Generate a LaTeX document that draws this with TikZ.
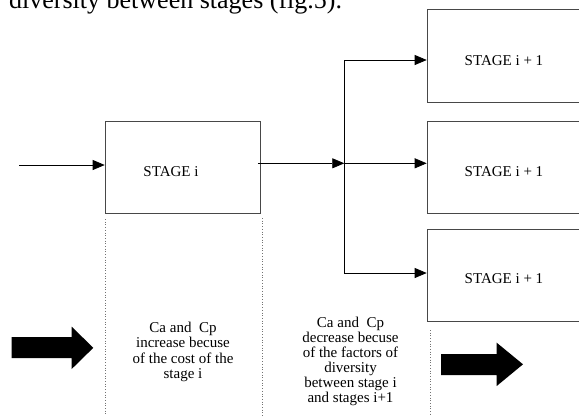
\documentclass[tikz,border=0pt]{standalone}
\usepackage{fontspec}
\setmainfont{Liberation Serif}
\usetikzlibrary{arrows.meta}
\begin{document}
\begin{tikzpicture}[x=1pt,y=-1pt]
\tikzset{
 stagebox/.style={draw=black!72, line width=0.9pt, inner sep=0pt, anchor=north west},
 lbl/.style={font=\fontsize{15}{15.3}\selectfont, text=black, inner sep=0pt},
 conn/.style={line width=0.7pt, draw=black},
 tipped/.style={-{Triangle[length=12pt,width=10pt]}},
 guide/.style={draw=black!55, line width=0.7pt, dotted},
 bigarrow/.style={fill=black}
}
\useasboundingbox (0,0) rectangle (579,416);
\clip (0,0) rectangle (579,416);

% cropped caption text
\node[anchor=base west, inner sep=0pt, font=\fontsize{26}{30}\selectfont] (caption) at (9,8) {diversity between stages (fig.5).};

% boxes
\node[stagebox, minimum width=155.3pt, minimum height=91.4pt] (si) at (104.7,121.3) {};
\node[lbl, anchor=base] (sil) at (171,176.7) {STAGE i};

\node[stagebox, minimum width=180pt, minimum height=92.4pt] (n1) at (426.7,9.3) {};
\node[stagebox, minimum width=180pt, minimum height=91.4pt] (n2) at (426.7,121.3) {};
\node[stagebox, minimum width=180pt, minimum height=91.7pt] (n3) at (426.7,229.3) {};
\node[lbl, anchor=base] (n1l) at (504,65) {STAGE i + 1};
\node[lbl, anchor=base] (n2l) at (504,176.7) {STAGE i + 1};
\node[lbl, anchor=base] (n3l) at (504,283.3) {STAGE i + 1};

% connectors
\coordinate (inS) at (19,165);
\draw[conn,tipped] (inS) -- (si.west |- inS);
\coordinate (br) at (344.3,163.3);
\coordinate (bt) at (344.3,60);
\coordinate (bb) at (344.3,273);
\draw[conn,tipped] ([xshift=-3pt]si.east |- br) -- (br);
\draw[conn] (bt) -- (bb);
\draw[conn,tipped] (bt) -- (n1.west |- bt);
\draw[conn,tipped] (br) -- (n2.west |- br);
\draw[conn,tipped] (bb) -- (n3.west |- bb);

% dotted guides
\draw[guide] (105.3,219) -- (105.3,416);
\draw[guide] (262,218) -- (262,416);
\draw[guide] (430,330) -- (430,416);

% explanatory texts
\node[lbl, align=center, anchor=north] (t1) at (183,322) {Ca and \ Cp\\ increase becuse\\ of the cost of the\\ stage i};
\node[lbl, align=center, anchor=north, font=\fontsize{15}{14.9}\selectfont] (t2) at (350.5,317) {Ca and \ Cp\\ decrease becuse\\ of the factors of\\ diversity\\ between stage i\\ and stages i+1};

% block arrows
\fill[bigarrow] (11.7,337) -- (71.7,337) -- (71.7,326.7) -- (93.3,347.8) -- (71.7,369) -- (71.7,358) -- (11.7,358) -- cycle;
\fill[bigarrow] (441,354) -- (496.7,354) -- (496.7,342.7) -- (523,364.3) -- (496.7,386) -- (496.7,375) -- (441,375) -- cycle;
\end{tikzpicture}
\end{document}
